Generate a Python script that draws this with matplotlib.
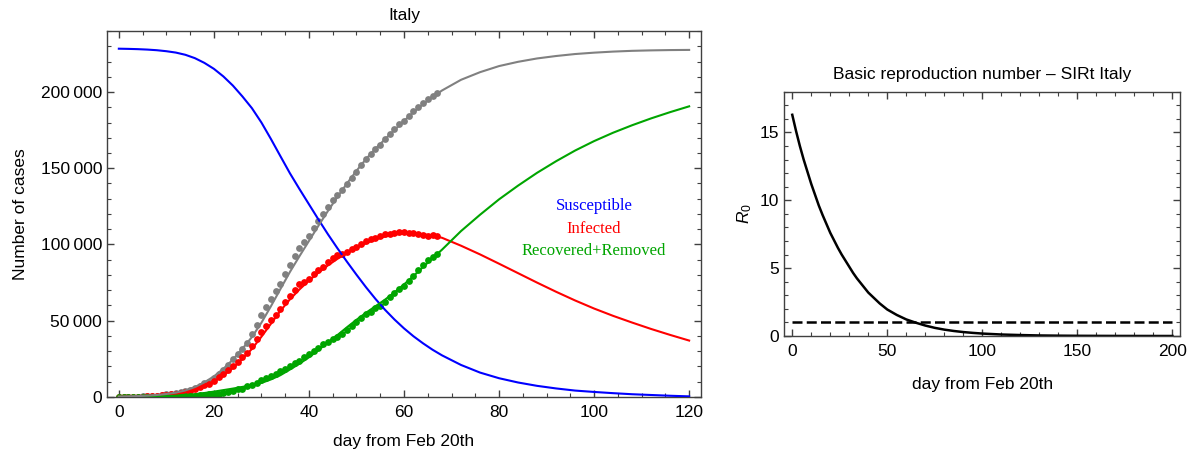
import numpy as np
import matplotlib
matplotlib.use("Agg")
import matplotlib.pyplot as plt
from matplotlib.ticker import MultipleLocator, FuncFormatter

plt.rcParams['font.family'] = ['Liberation Sans', 'DejaVu Sans']
plt.rcParams['mathtext.fontset'] = 'custom'
plt.rcParams['mathtext.rm'] = 'Liberation Sans'
plt.rcParams['mathtext.it'] = 'Liberation Sans:italic'

# data: Italy, day 0 = Feb 20th
total_cases = [3, 20, 79, 152, 229, 322, 400, 650, 888, 1128,
               1694, 2036, 2502, 3089, 3858, 4636, 5883, 7375, 9172, 10149,
               12462, 15113, 17660, 21157, 24747, 27980, 31506, 35713, 41035, 47021,
               53578, 59138, 63927, 69176, 74386, 80589, 86498, 92472, 97689, 101739,
               105792, 110574, 115242, 119827, 124632, 128948, 132547, 135586, 139422, 143626,
               147577, 152271, 156363, 159516, 162488, 165155, 168941, 172434, 175925, 178972,
               181228, 183957, 187327, 189973, 192994, 195351, 197675, 199414]
infected = [3, 19, 76, 147, 221, 311, 385, 588, 821, 1049,
            1577, 1835, 2263, 2706, 3296, 3916, 5061, 6387, 7985, 8514,
            10590, 12839, 14955, 17750, 20603, 23073, 26062, 28710, 33190, 37860,
            42681, 46638, 50418, 54030, 57521, 62013, 66414, 70065, 73880, 75528,
            77635, 80572, 83049, 85388, 88274, 91246, 93187, 94067, 95262, 96877,
            98273, 100269, 102253, 103616, 104291, 105418, 106607, 106962, 107771, 108257,
            108237, 107709, 107699, 106848, 106527, 105847, 106103, 105813]
removed = [0, 1, 3, 5, 8, 11, 15, 62, 67, 79,
           117, 201, 239, 383, 562, 720, 822, 988, 1187, 1635,
           1872, 2274, 2705, 3407, 4144, 4907, 5444, 7003, 7845, 9161,
           10897, 12500, 13509, 15146, 16865, 18576, 20084, 22407, 23809, 26211,
           28157, 30002, 32193, 34439, 36358, 37702, 39360, 41519, 44160, 46749,
           49304, 52002, 54110, 55900, 58197, 59737, 62334, 65472, 68154, 70715,
           72991, 76248, 79628, 83125, 86467, 89504, 91572, 93601]
data_days = np.arange(len(total_cases))

# fitted SIRt curves (every 2 days up to day 68, then every 4 days)
fit_days = list(range(0, 69, 2)) + list(range(72, 121, 4))
fit_S = [228400, 228280, 228100, 227820, 227400, 226750, 225850, 224400, 222200, 219100,
         215200, 210200, 204200, 197100, 189400, 180000, 169200, 157900, 146700, 136400,
         126400, 116400, 106700, 97500, 88700, 80200, 72000, 64300, 57200, 50800,
         45000, 39800, 35200, 31000, 27300,
         21000, 16000, 12300, 9500, 7300, 5600, 4200, 3300, 2500, 1800, 1300, 800, 400]
fit_I = [200, 280, 400, 600, 900, 1350, 2000, 3100, 4700, 7000,
         10000, 14000, 19000, 25000, 31500, 39500, 48000, 56500, 64000, 70500,
         76300, 81500, 86300, 90600, 94300, 97700, 100800, 103300, 105200, 106500,
         107200, 107400, 106800, 105800, 104400,
         99200, 93500, 87400, 81200, 75000, 69000, 63300, 58000, 53200, 48800, 44600, 40700, 37000]
fit_R = [100, 140, 200, 280, 400, 600, 850, 1200, 1800, 2600,
         3500, 4500, 5500, 6600, 7800, 9200, 11500, 14300, 18000, 21800,
         26000, 30800, 35700, 40600, 45700, 50600, 55200, 59500, 63800, 68600,
         73800, 79300, 85200, 90900, 96600,
         108800, 119500, 129600, 138600, 147000, 154600, 161600, 167800, 173300, 178200,
         182700, 186800, 190600]
fit_total = [300, 420, 600, 880, 1300, 1950, 2850, 4300, 6500, 9600,
             13500, 18500, 24500, 31600, 39300, 48700, 59500, 70800, 82000, 92300,
             102300, 112300, 122000, 131200, 140000, 148300, 156000, 162800, 169000, 175100,
             181000, 186700, 192000, 196700, 201000,
             208000, 213000, 217000, 219800, 222000, 223600, 224900, 225800, 226500, 227000,
             227300, 227500, 227600]

# basic reproduction number
r0_days = [0, 2, 4, 6, 8, 10, 12, 14, 16, 18, 20, 22, 24, 26, 28, 30, 32, 34, 36, 38,
           40, 43, 46, 50, 55, 60, 65, 70, 75, 80, 85, 90, 95, 100,
           110, 120, 130, 140, 150, 160, 170, 180, 190, 200]
r0_values = [16.3, 15.1, 14.0, 13.0, 12.1, 11.2, 10.4, 9.6, 8.9, 8.25,
             7.6, 7.05, 6.5, 6.0, 5.55, 5.1, 4.65, 4.25, 3.9, 3.55,
             3.2, 2.8, 2.4, 1.95, 1.55, 1.22, 0.98, 0.77, 0.6, 0.47, 0.37, 0.29, 0.23, 0.18,
             0.11, 0.07, 0.04, 0.025, 0.015, 0.01, 0.006, 0.004, 0.002, 0.001]

GREEN = '#00a500'
GRAY = '#808080'
FS = 12.5

fig = plt.figure(figsize=(11.91, 4.54), dpi=100)
ax = fig.add_axes([0.0898, 0.1256, 0.4988, 0.8061])
ax2 = fig.add_axes([0.6585, 0.2599, 0.3323, 0.5381])

ms = 4.9
ax.plot(data_days, total_cases, 'o', color=GRAY, ms=ms, mec='none', zorder=2)
ax.plot(data_days, infected, 'o', color='red', ms=ms, mec='none', zorder=2)
ax.plot(data_days, removed, 'o', color=GREEN, ms=ms, mec='none', zorder=2)

lw = 1.5
ax.plot(fit_days, fit_S, color='blue', lw=lw, zorder=3)
ax.plot(fit_days, fit_I, color='red', lw=lw, zorder=3)
ax.plot(fit_days, fit_R, color=GREEN, lw=lw, zorder=3)
ax.plot(fit_days, fit_total, color=GRAY, lw=lw, zorder=3)

serif = ['Liberation Serif', 'DejaVu Serif']
ax.text(100, 125000, 'Susceptible', color='blue', ha='center', va='center', fontsize=12, family=serif)
ax.text(100, 110000, 'Infected', color='red', ha='center', va='center', fontsize=12, family=serif)
ax.text(100, 96000, 'Recovered+Removed', color=GREEN, ha='center', va='center', fontsize=12, family=serif)

ax.set_xlim(-2.5, 122.5)
ax.set_ylim(0, 240000)
ax.xaxis.set_major_locator(MultipleLocator(20))
ax.xaxis.set_minor_locator(MultipleLocator(5))
ax.yaxis.set_major_locator(MultipleLocator(50000))
ax.yaxis.set_minor_locator(MultipleLocator(10000))
ax.yaxis.set_major_formatter(FuncFormatter(
    lambda v, p: '{:,}'.format(int(v)).replace(',', '\u2009')))
ax.set_title('Italy', fontsize=FS, pad=8)
ax.set_xlabel('day from Feb 20th', fontsize=FS, labelpad=10)
ax.set_ylabel('Number of cases', fontsize=FS, labelpad=9)

ax2.plot(r0_days, r0_values, color='black', lw=1.8)
ax2.plot([0, 200], [1, 1], color='black', lw=1.8, dashes=(4, 1.7))
ax2.set_xlim(-4.2, 204)
ax2.set_ylim(0, 18)
ax2.xaxis.set_major_locator(MultipleLocator(50))
ax2.xaxis.set_minor_locator(MultipleLocator(10))
ax2.yaxis.set_major_locator(MultipleLocator(5))
ax2.yaxis.set_minor_locator(MultipleLocator(1))
ax2.set_title('Basic reproduction number \u2013 SIRt Italy', fontsize=FS, pad=9)
ax2.set_xlabel('day from Feb 20th', fontsize=FS, labelpad=13)
ax2.set_ylabel('$R_0$', fontsize=FS, labelpad=4)

for a in (ax, ax2):
    a.tick_params(which='both', direction='in', top=True, right=True,
                  labelsize=FS, colors='0.25', labelcolor='black')
    a.tick_params(which='major', length=5, width=1)
    a.tick_params(which='minor', length=2.8, width=0.8)
    a.tick_params(axis='x', which='major', pad=6)
    for s in a.spines.values():
        s.set_color('0.25')
        s.set_linewidth(1)

fig.savefig('out.png', dpi=100)
